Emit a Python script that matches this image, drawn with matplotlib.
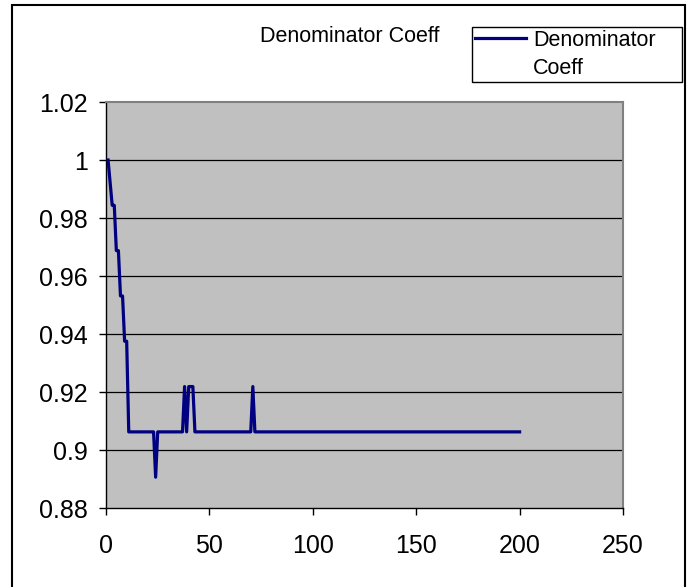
"""
Denominator coefficient trace.
"""

import matplotlib.pyplot as plt
from matplotlib.lines import Line2D
from matplotlib.patches import Rectangle


# coefficient values, stored as (value, run length) starting at iteration 1
runs = [
    (1.0, 1),
    (0.9921875, 1),
    (0.984375, 2),
    (0.96875, 2),
    (0.953125, 2),
    (0.9375, 2),
    (0.90625, 13),
    (0.890625, 1),
    (0.90625, 13),
    (0.921875, 1),
    (0.90625, 1),
    (0.921875, 3),
    (0.90625, 28),
    (0.921875, 1),
    (0.90625, 129),
]

coeff = []
for value, count in runs:
    coeff += [value] * count
iterations = list(range(1, len(coeff) + 1))

x_ticks = [0, 50, 100, 150, 200, 250]
y_ticks = [0.88, 0.9, 0.92, 0.94, 0.96, 0.98, 1.0, 1.02]
y_tick_labels = ["0.88", "0.9", "0.92", "0.94", "0.96", "0.98", "1", "1.02"]

plt.rcParams["font.family"] = ["Liberation Sans", "DejaVu Sans"]

W, H = 687, 587
fig = plt.figure(figsize=(W / 100, H / 100), dpi=100)

ax = fig.add_axes([106 / W, 1 - 508 / H, 517 / W, 406 / H])
ax.set_facecolor("#c0c0c0")

line, = ax.plot(iterations, coeff, color="#000080", lw=2.3, zorder=3)

ax.set_xlim(0, 250)
ax.set_ylim(0.88, 1.02)
ax.set_xticks(x_ticks)
ax.set_yticks(y_ticks)
ax.set_yticklabels(y_tick_labels)
ax.tick_params(direction="out", length=5, width=1, labelsize=18)
ax.tick_params(axis="x", pad=14)
ax.tick_params(axis="y", pad=8)

ax.grid(axis="y", color="black", lw=0.9)
ax.set_axisbelow(True)
grid = ax.get_ygridlines()
grid[0].set_visible(False)
grid[-1].set_visible(False)

for side in ["left", "bottom"]:
    ax.spines[side].set_color("black")
    ax.spines[side].set_linewidth(1)
for side in ["top", "right"]:
    ax.spines[side].set_color("#808080")
    ax.spines[side].set_linewidth(1.5)

fig.text(350 / W, 1 - 37 / H, "Denominator Coeff", ha="center", va="center",
         fontsize=15.5)

blank = Line2D([], [], linestyle="none")
leg = fig.legend(
    [line, blank], ["Denominator", "Coeff"],
    loc="upper left", mode="expand",
    bbox_to_anchor=(472 / W, 1 - 82 / H, (682 - 472) / W, 55 / H),
    borderaxespad=0, fancybox=False, edgecolor="black", framealpha=1,
    fontsize=15.5, handlelength=2.35, handletextpad=0.35, labelspacing=0.32,
    borderpad=0.14,
)
leg.get_frame().set_linewidth(1)

# outer chart frame
fig.patches.append(Rectangle((12 / W, -0.02), (685 - 12) / W, 1 - 5 / H + 0.02,
                             transform=fig.transFigure, fill=False,
                             edgecolor="black", lw=1.5))

fig.savefig("out.png", dpi=100)
